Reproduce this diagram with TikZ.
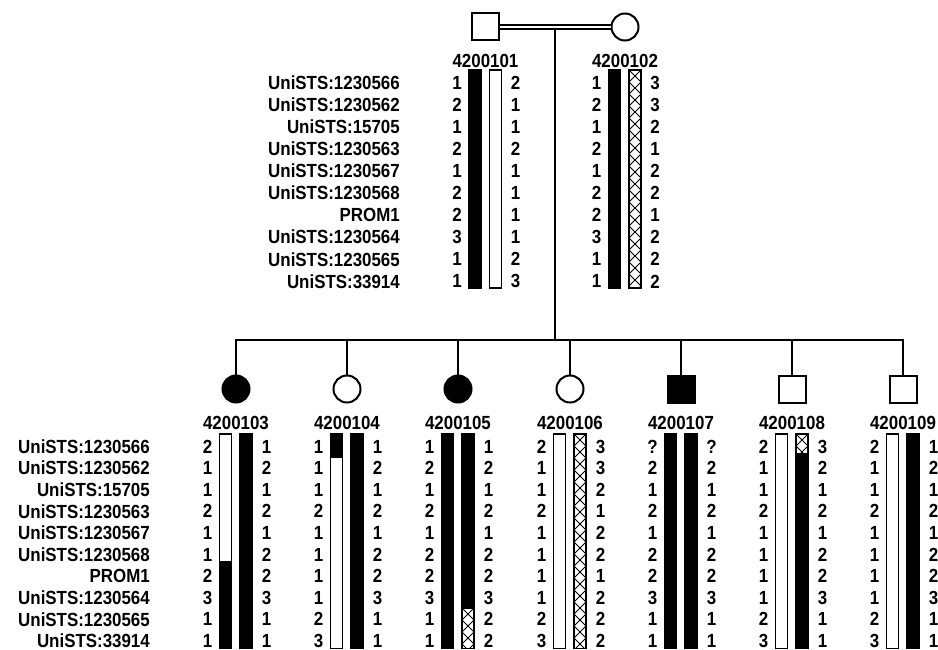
\documentclass[tikz,border=0pt]{standalone}
\usepackage{fontspec}
\setmainfont{Liberation Sans}[FakeStretch=0.89]
\usetikzlibrary{calc}

\tikzset{
  ped/.style={draw, line width=2pt, inner sep=0pt, minimum size=27pt},
  male/.style={ped, rectangle},
  female/.style={ped, circle},
  amale/.style={male, fill=black},
  afemale/.style={female, fill=black},
  link/.style={line width=2pt},
  barline/.style={line width=1.5pt},
  hatchline/.style={line width=0.8pt},
  hap/.style={font=\bfseries\fontsize{19}{21}\selectfont, inner sep=0pt},
  marker/.style={hap, anchor=east},
}

% one haplotype bar segment: x of left edge, top, bottom
\newcommand{\hapsolid}[3]{\filldraw[barline] (#1,#2) rectangle ({#1+12},#3);}
\newcommand{\hapopen}[3]{\draw[barline] (#1,#2) rectangle ({#1+12},#3);}
\newcommand{\haphatch}[3]{%
  \begin{scope}
    \clip (#1,#2) rectangle ({#1+12},#3);
    \pgfmathtruncatemacro\ncell{ceil((#3-#2)/12)}
    \foreach \k in {0,...,\ncell}
      \draw[hatchline] (#1,{#2+12*\k}) -- ++(12,12) (#1,{#2+12*\k+12}) -- ++(12,-12);
  \end{scope}
  \draw[barline] (#1,#2) rectangle ({#1+12},#3);}

\begin{document}
\begin{tikzpicture}[x=1pt, y=-1pt]
\useasboundingbox (0,0) rectangle (938,650);

% parents
\node[male] (f101) at (485.5,27) {};
\node[female] (m102) at (625,27) {};
\coordinate (mate) at ($(f101.east)!.5!(m102.west)$);

% children
\foreach \id/\c/\kind in {103/236/afemale,104/347/female,105/458/afemale,%
  106/570/female,107/681/amale,108/792/male,109/903/male} {
  \node[\kind] (p\id) at (\c,389) {};
  \coordinate (t\id) at (\c,340);
  \draw[link] (t\id) -- (p\id);
  \node[hap] (id\id) at (\c,423) {4200\id};
}
\draw[link, line cap=rect] (t103) -- (t109);
\draw[link] (mate) -- (mate |- t103);
\draw[link, double, double distance=2.5pt] (f101.east) -- (m102.west);

\node[hap] (id101) at (485.5,61) {4200101};
\node[hap] (id102) at (625,61) {4200102};

% marker names
\foreach \m [count=\k] in {UniSTS:1230566,UniSTS:1230562,UniSTS:15705,%
  UniSTS:1230563,UniSTS:1230567,UniSTS:1230568,PROM1,UniSTS:1230564,%
  UniSTS:1230565,UniSTS:33914} {
  \node[marker] (pm\k) at (400,{82.5+22.1*(\k-1)}) {\m};
  \node[marker] (cm\k) at (150,{446.5+21.6*(\k-1)}) {\m};
}

% parental alleles
\foreach \id/\c/\lft/\rgt in {%
  101/485.5/{1,2,1,2,1,2,2,3,1,1}/{2,1,1,2,1,1,1,1,2,3},%
  102/625/{1,2,1,2,1,2,2,3,1,1}/{3,3,2,1,2,2,1,2,2,2}} {
  \foreach \a [count=\k] in \lft
    \node[hap] (l\id-\k) at ({\c-28.5},{82.5+22.1*(\k-1)}) {\a};
  \foreach \a [count=\k] in \rgt
    \node[hap] (r\id-\k) at ({\c+30},{82.5+22.1*(\k-1)}) {\a};
}

% alleles of the children
\foreach \id/\c/\lft/\rgt in {%
  103/236/{2,1,1,2,1,1,2,3,1,1}/{1,2,1,2,1,2,2,3,1,1},%
  104/347/{1,1,1,2,1,1,1,1,2,3}/{1,2,1,2,1,2,2,3,1,1},%
  105/458/{1,2,1,2,1,2,2,3,1,1}/{1,2,1,2,1,2,2,3,2,2},%
  106/570/{2,1,1,2,1,1,1,1,2,3}/{3,3,2,1,2,2,1,2,2,2},%
  107/681/{?,2,1,2,1,2,2,3,1,1}/{?,2,1,2,1,2,2,3,1,1},%
  108/792/{2,1,1,2,1,1,1,1,2,3}/{3,2,1,2,1,2,2,3,1,1},%
  109/903/{2,1,1,2,1,1,1,1,2,3}/{1,2,1,2,1,2,2,3,1,1}} {
  \foreach \a [count=\k] in \lft
    \node[hap] (l\id-\k) at ({\c-28.5},{446.5+21.6*(\k-1)}) {\a};
  \foreach \a [count=\k] in \rgt
    \node[hap] (r\id-\k) at ({\c+30.5},{446.5+21.6*(\k-1)}) {\a};
}

% haplotype bars
\hapsolid{469}{70}{288}
\hapopen{489.5}{70}{288}
\hapsolid{608.5}{70}{288}
\haphatch{629}{70}{288}

\hapopen{219.5}{434}{562}
\hapsolid{219.5}{562}{648.5}
\hapsolid{240}{434}{648.5}

\hapopen{330.5}{457}{648.5}
\hapsolid{330.5}{434}{457}
\hapsolid{351}{434}{648.5}

\hapsolid{441.5}{434}{648.5}
\hapsolid{462}{434}{608}
\haphatch{462}{608}{648.5}

\hapopen{553.5}{434}{648.5}
\haphatch{574}{434}{648.5}

\hapsolid{664.5}{434}{648.5}
\hapsolid{685}{434}{648.5}

\hapopen{775.5}{434}{648.5}
\hapsolid{796}{454}{648.5}
\haphatch{796}{434}{454}

\hapopen{886.5}{434}{648.5}
\hapsolid{907}{434}{648.5}
\end{tikzpicture}
\end{document}
